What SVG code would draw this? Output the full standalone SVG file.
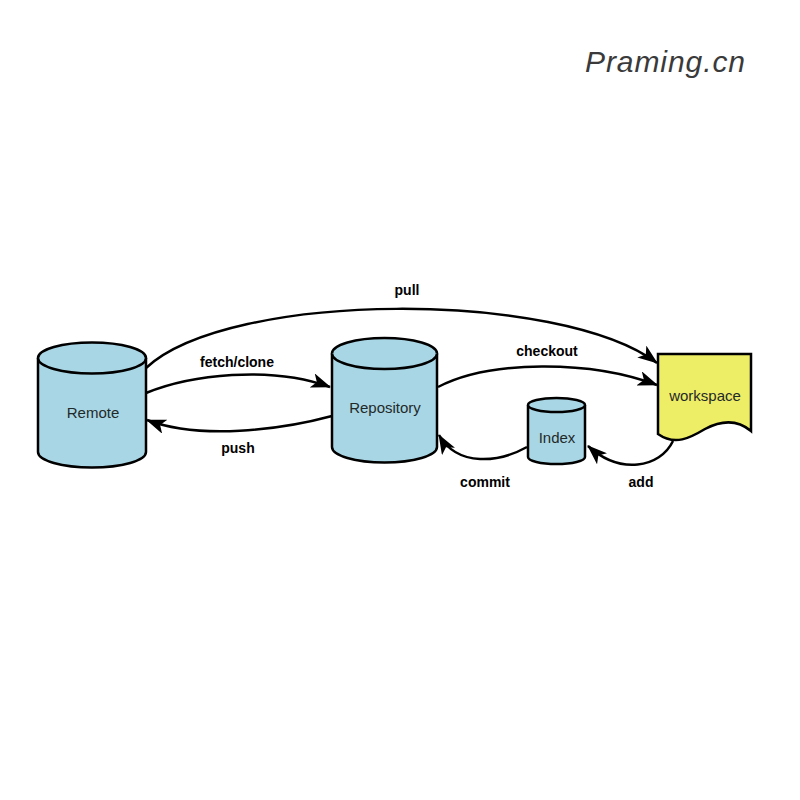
<svg xmlns="http://www.w3.org/2000/svg" width="800" height="800" viewBox="0 0 800 800">
<style>
.cyl{fill:#a9d6e4;stroke:#000;stroke-width:2.5}
.lbl{font-family:"Liberation Sans",Arial,sans-serif;font-size:15px;fill:#1f2a2a;text-anchor:middle}
.edge{font-family:"Liberation Sans",Arial,sans-serif;font-size:14px;font-weight:bold;fill:#000;text-anchor:middle}
.con{fill:none;stroke:#000;stroke-width:2.5;marker-end:url(#arr)}
</style>
<defs>
<marker id="arr" markerUnits="userSpaceOnUse" markerWidth="20" markerHeight="15" viewBox="0 0 20 15" refX="19" refY="7.5" orient="auto">
<path d="M0,0 L20,7.5 L0,15 L5,7.5 Z" fill="#000"/>
</marker>
</defs>
<rect width="800" height="800" fill="#fff"/>
<text x="585" y="72" font-family="'Liberation Sans',Arial,sans-serif" font-size="30" font-style="italic" fill="#3a3a3a" textLength="160">Praming.cn</text>

<g id="remote">
<path class="cyl" d="M38,358 A54,15.5 0 0 1 146,358 V452 A54,15.5 0 0 1 38,452 Z"/>
<path class="cyl" d="M38,358 A54,15.5 0 0 0 146,358" fill="none"/>
<text class="lbl" x="93" y="418">Remote</text>
</g>
<g id="repository">
<path class="cyl" d="M332,353.5 A52.5,15.5 0 0 1 437,353.5 V447 A52.5,15.5 0 0 1 332,447 Z"/>
<path class="cyl" d="M332,353.5 A52.5,15.5 0 0 0 437,353.5" fill="none"/>
<text class="lbl" x="385" y="413">Repository</text>
</g>
<g id="index">
<path class="cyl" d="M528,405 A28.5,7 0 0 1 585,405 V457 A28.5,7 0 0 1 528,457 Z"/>
<path class="cyl" d="M528,405 A28.5,7 0 0 0 585,405" fill="none"/>
<text class="lbl" x="557" y="443">Index</text>
</g>
<g id="workspace">
<path d="M658,354 H751 V431 C738,420 722,420 705,429 C690,438 675,446 658,434 Z" fill="#eeee66" stroke="#000" stroke-width="2.5"/>
<text class="lbl" x="705" y="401">workspace</text>
</g>

<g id="connectors">
<path class="con" d="M146,368 C230,290 560,290 657,363"/>
<path class="con" d="M146,393 C190,375 270,365 330,387"/>
<path class="con" d="M332,416 C280,430 200,440 147,420"/>
<path class="con" d="M438,387 C490,360 590,360 657,385"/>
<path class="con" d="M527,447 C500,462 458,468 439,435"/>
<path class="con" d="M673,441 C660,468 620,475 588,446"/>
<text class="edge" x="407" y="295">pull</text>
<text class="edge" x="237" y="367">fetch/clone</text>
<text class="edge" x="238" y="453">push</text>
<text class="edge" x="547" y="356">checkout</text>
<text class="edge" x="485" y="487">commit</text>
<text class="edge" x="641" y="487">add</text>
</g>
</svg>
